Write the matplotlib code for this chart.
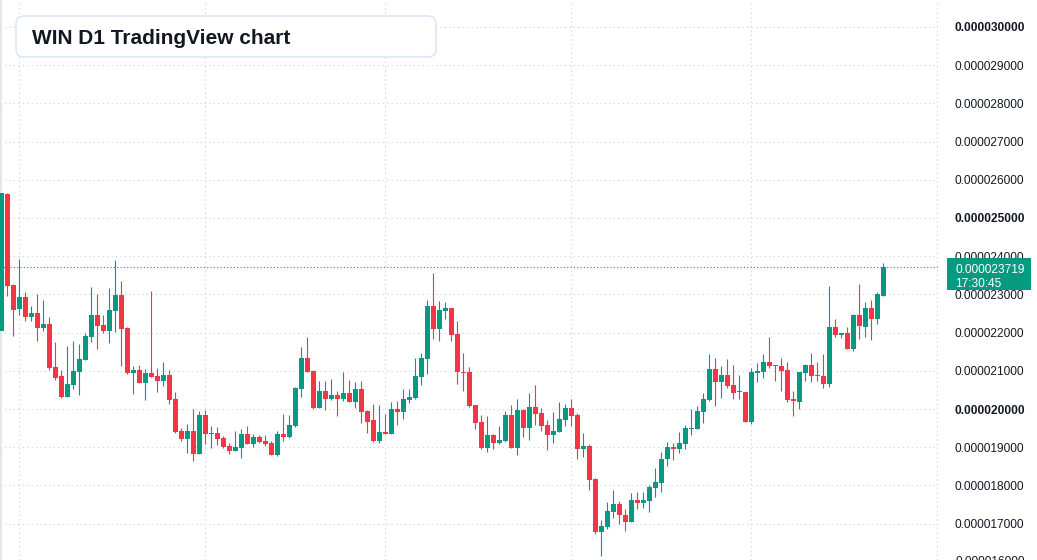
import matplotlib
matplotlib.use('Agg')
import matplotlib.pyplot as plt
from matplotlib.patches import FancyBboxPatch, Rectangle
from matplotlib.transforms import IdentityTransform, blended_transform_factory
import numpy as np

UNIT = 1e-6  # prices below are in millionths

opens = [22.05, 25.63, 23.25, 22.63, 22.93, 22.42, 22.51, 22.13, 22.23, 21.10,
         20.86, 20.32, 20.64, 20.98, 21.28, 21.89, 22.46, 22.20, 22.05, 22.57,
         22.98, 22.12, 20.94, 21.02, 20.69, 20.94, 20.86, 20.74, 20.89, 20.26,
         19.42, 19.22, 19.42, 18.83, 19.84, 19.35, 19.37, 19.24, 19.03, 18.91,
         18.99, 19.35, 19.09, 19.27, 19.16, 19.11, 18.80, 19.35, 19.27, 19.55,
         20.53, 21.34, 21.00, 20.03, 20.47, 20.27, 20.37, 20.27, 20.42, 20.19,
         20.52, 19.95, 19.71, 19.17, 19.40, 19.35, 20.00, 19.93, 20.24, 20.30,
         20.85, 21.32, 22.70, 22.10, 22.57, 22.64, 21.96, 20.97, 20.97, 20.10,
         19.66, 18.98, 19.32, 19.12, 19.16, 19.84, 18.98, 19.97, 19.51, 20.05,
         19.90, 19.58, 19.33, 19.41, 19.72, 20.03, 19.84, 18.96, 19.03, 18.18,
         16.79, 16.92, 17.31, 17.51, 17.22, 17.05, 17.62, 17.55, 17.60, 17.94,
         18.07, 18.70, 19.01, 18.96, 19.09, 19.48, 19.48, 19.92, 20.24, 21.05,
         20.71, 20.89, 20.63, 20.45, 20.45, 19.67, 20.95, 20.98, 21.23, 21.15,
         21.13, 21.02, 20.24, 20.19, 20.95, 21.15, 20.89, 20.86, 20.66, 22.15,
         21.95, 21.99, 21.58, 22.46, 22.15, 22.64, 22.36, 22.97]
highs = [25.65, 25.65, 23.27, 23.93, 23.06, 22.70, 23.01, 22.85, 22.41, 21.75,
         21.02, 21.65, 21.78, 21.70, 21.99, 23.19, 23.01, 22.46, 23.17, 23.90,
         23.35, 22.15, 21.13, 21.15, 21.05, 23.09, 21.07, 21.23, 21.02, 20.45,
         19.50, 19.61, 20.00, 19.95, 19.97, 19.55, 19.53, 19.29, 19.11, 19.42,
         19.48, 19.55, 19.35, 19.32, 19.32, 19.16, 19.42, 19.87, 19.84, 20.58,
         21.62, 21.88, 21.02, 20.73, 20.73, 20.79, 20.47, 20.97, 20.76, 20.71,
         20.73, 19.97, 20.13, 20.10, 19.87, 20.18, 20.21, 20.52, 20.52, 21.34,
         21.47, 22.85, 23.56, 22.83, 22.80, 22.64, 22.30, 21.47, 21.10, 20.11,
         19.84, 19.82, 19.35, 19.55, 19.95, 20.11, 20.26, 20.00, 20.43, 20.64,
         20.03, 19.71, 19.92, 20.18, 20.13, 20.26, 19.90, 19.37, 19.08, 18.20,
         17.09, 17.57, 17.88, 17.59, 17.38, 17.80, 17.83, 17.83, 18.01, 18.46,
         18.87, 19.14, 19.11, 19.40, 19.58, 20.00, 20.08, 20.42, 21.44, 21.34,
         21.13, 21.31, 21.15, 20.89, 20.45, 21.07, 21.20, 21.44, 21.88, 21.15,
         21.34, 21.23, 20.47, 20.97, 21.18, 21.47, 21.23, 21.44, 23.22, 22.36,
         21.99, 22.15, 22.49, 23.28, 22.80, 22.85, 23.06, 23.82]
lows = [22.05, 22.97, 21.92, 22.47, 22.31, 22.31, 21.79, 22.05, 21.03, 20.77,
        20.30, 20.32, 20.53, 20.37, 21.27, 21.76, 21.58, 22.00, 21.74, 22.02,
        21.13, 20.92, 20.40, 20.69, 20.24, 20.85, 20.45, 20.61, 20.14, 19.38,
        19.17, 18.86, 18.65, 18.83, 19.09, 18.99, 19.07, 18.99, 18.83, 18.91,
        18.73, 19.09, 19.01, 19.12, 19.04, 18.80, 18.78, 19.17, 19.25, 19.53,
        20.32, 20.98, 20.01, 20.03, 19.98, 20.24, 19.82, 20.22, 20.19, 20.03,
        19.64, 19.38, 19.14, 19.12, 19.35, 19.35, 19.59, 19.75, 20.16, 20.27,
        20.64, 20.92, 21.84, 21.79, 22.36, 21.79, 20.66, 20.48, 20.06, 19.48,
        18.96, 18.88, 18.96, 19.08, 19.14, 18.98, 18.80, 19.27, 19.19, 19.58,
        19.42, 18.93, 19.12, 19.41, 19.55, 19.55, 18.70, 18.75, 17.89, 16.74,
        16.16, 16.87, 17.15, 17.00, 16.81, 17.05, 17.39, 17.42, 17.31, 17.70,
        17.84, 18.52, 18.67, 18.86, 18.96, 19.33, 19.48, 19.64, 20.22, 20.09,
        20.30, 20.56, 20.27, 20.27, 19.67, 19.62, 20.71, 20.82, 21.07, 20.74,
        20.48, 20.19, 19.82, 20.01, 20.74, 20.71, 20.74, 20.56, 20.58, 21.89,
        21.87, 21.58, 21.53, 21.84, 21.89, 21.81, 22.23, 22.97]
closes = [25.65, 23.23, 22.60, 22.93, 22.42, 22.51, 22.13, 22.23, 21.08, 20.82,
          20.32, 20.65, 20.99, 21.31, 21.91, 22.46, 22.18, 22.05, 22.59, 22.98,
          22.10, 20.94, 21.02, 20.69, 20.94, 20.85, 20.74, 20.89, 20.24, 19.41,
          19.22, 19.42, 18.83, 19.84, 19.35, 19.37, 19.22, 19.01, 18.91, 19.01,
          19.35, 19.09, 19.27, 19.14, 19.09, 18.80, 19.35, 19.27, 19.58, 20.55,
          21.34, 20.98, 20.03, 20.47, 20.27, 20.37, 20.27, 20.42, 20.19, 20.52,
          19.93, 19.67, 19.17, 19.40, 19.35, 20.00, 19.93, 20.26, 20.31, 20.86,
          21.34, 22.70, 22.10, 22.59, 22.64, 21.95, 20.96, 20.95, 20.09, 19.64,
          18.98, 19.32, 19.12, 19.19, 19.84, 18.98, 19.97, 19.51, 20.05, 19.88,
          19.55, 19.33, 19.42, 19.74, 20.03, 19.82, 18.96, 19.03, 18.15, 16.79,
          16.94, 17.33, 17.51, 17.23, 17.05, 17.62, 17.55, 17.62, 17.96, 18.09,
          18.69, 19.01, 18.95, 19.11, 19.50, 19.50, 19.95, 20.26, 21.05, 20.71,
          20.89, 20.61, 20.43, 20.47, 19.67, 20.97, 21.00, 21.23, 21.13, 21.13,
          21.00, 20.24, 20.22, 20.97, 21.15, 20.87, 20.87, 20.66, 22.15, 21.95,
          21.99, 21.58, 22.46, 22.18, 22.64, 22.36, 23.01, 23.719]

last_price = 0.000023719
countdown = '17:30:45'
title = 'WIN D1 TradingView chart'
price_ticks = [17, 18, 19, 20, 21, 22, 23, 24, 25, 26, 27, 28, 29, 30]
month_lines = [3, 34, 64, 95, 125, 156]

UP = '#089981'
DOWN = '#F23645'
W, H = 1037, 560

plt.rcParams['font.family'] = ['Liberation Sans', 'DejaVu Sans']
fig = plt.figure(figsize=(W / 100, H / 100), dpi=100)
ax = fig.add_axes([0, 0, 938 / W, 1])

o = np.array(opens) * UNIT
h = np.array(highs) * UNIT
l = np.array(lows) * UNIT
c = np.array(closes) * UNIT
x = np.arange(len(o))
colors = np.where(c >= o, UP, DOWN)

ax.vlines(x, l, h, colors=colors, linewidth=0.8, zorder=2)
body_h = np.maximum(np.abs(c - o), 0.03 * UNIT)
ax.bar(x, body_h, bottom=np.minimum(o, c), width=0.78, color=colors,
       linewidth=0, zorder=3)

ax.axhline(last_price, color=UP, linestyle=(0, (1, 2)), linewidth=0.8, zorder=4)

# axes range in pixels: 0.000030 sits at y=27, 38.2 px per 0.000001
ax.set_ylim((30 - 533 / 38.2) * UNIT, (30 + 27 / 38.2) * UNIT)
ax.set_xlim(-0.217, 156.1)

ax.set_xticks(month_lines)
ax.yaxis.tick_right()
ax.tick_params(axis='y', length=0, pad=12.2, labelsize=8.6, labelcolor='#131722')
ax.tick_params(axis='x', length=0, labelbottom=False)
ax.set_yticks([t * UNIT for t in price_ticks],
              labels=['%.9f' % (t * UNIT) for t in price_ticks])
for lab, t in zip(ax.get_yticklabels(which='major'), price_ticks):
    lab.set_fontweight('bold' if t % 5 == 0 else 'normal')
ax.grid(True, color='#cfcfcf', linestyle=(0, (1, 3)), linewidth=0.8)
ax.set_axisbelow(True)

for side in ['top', 'right', 'bottom']:
    ax.spines[side].set_visible(False)
ax.spines['left'].set_color('#e6e6e6')
ax.spines['left'].set_linewidth(3)

# bottom label, half cut by the figure edge
trans = blended_transform_factory(ax.transAxes, ax.transData)
ax.text(1 + 17 / 938, 16 * UNIT, '%.9f' % (16 * UNIT), transform=trans,
        va='center', ha='left', fontsize=8.6, color='#131722', clip_on=False)

# last price label
fig.add_artist(Rectangle((947, H - 290), 84, 32, transform=IdentityTransform(),
                         facecolor=UP, edgecolor='none', zorder=5))
fig.text(955 / W, 1 - 273.3 / H, '%.9f' % last_price, color='white',
         fontsize=8.6, va='baseline', ha='left', zorder=6)
fig.text(955 / W, 1 - 286.7 / H, countdown, color='white',
         fontsize=8.6, va='baseline', ha='left', zorder=6)

# title box
fig.add_artist(FancyBboxPatch((16, H - 57), 420, 41,
                              boxstyle='round,pad=0,rounding_size=8',
                              transform=IdentityTransform(), facecolor='white',
                              edgecolor='#d6e4f7', linewidth=1, zorder=5))
fig.text(32 / W, 1 - 44.3 / H, title, fontsize=15, fontweight='bold',
         color='#131722', va='baseline', ha='left', zorder=6)

plt.savefig('out.png', dpi=100)
